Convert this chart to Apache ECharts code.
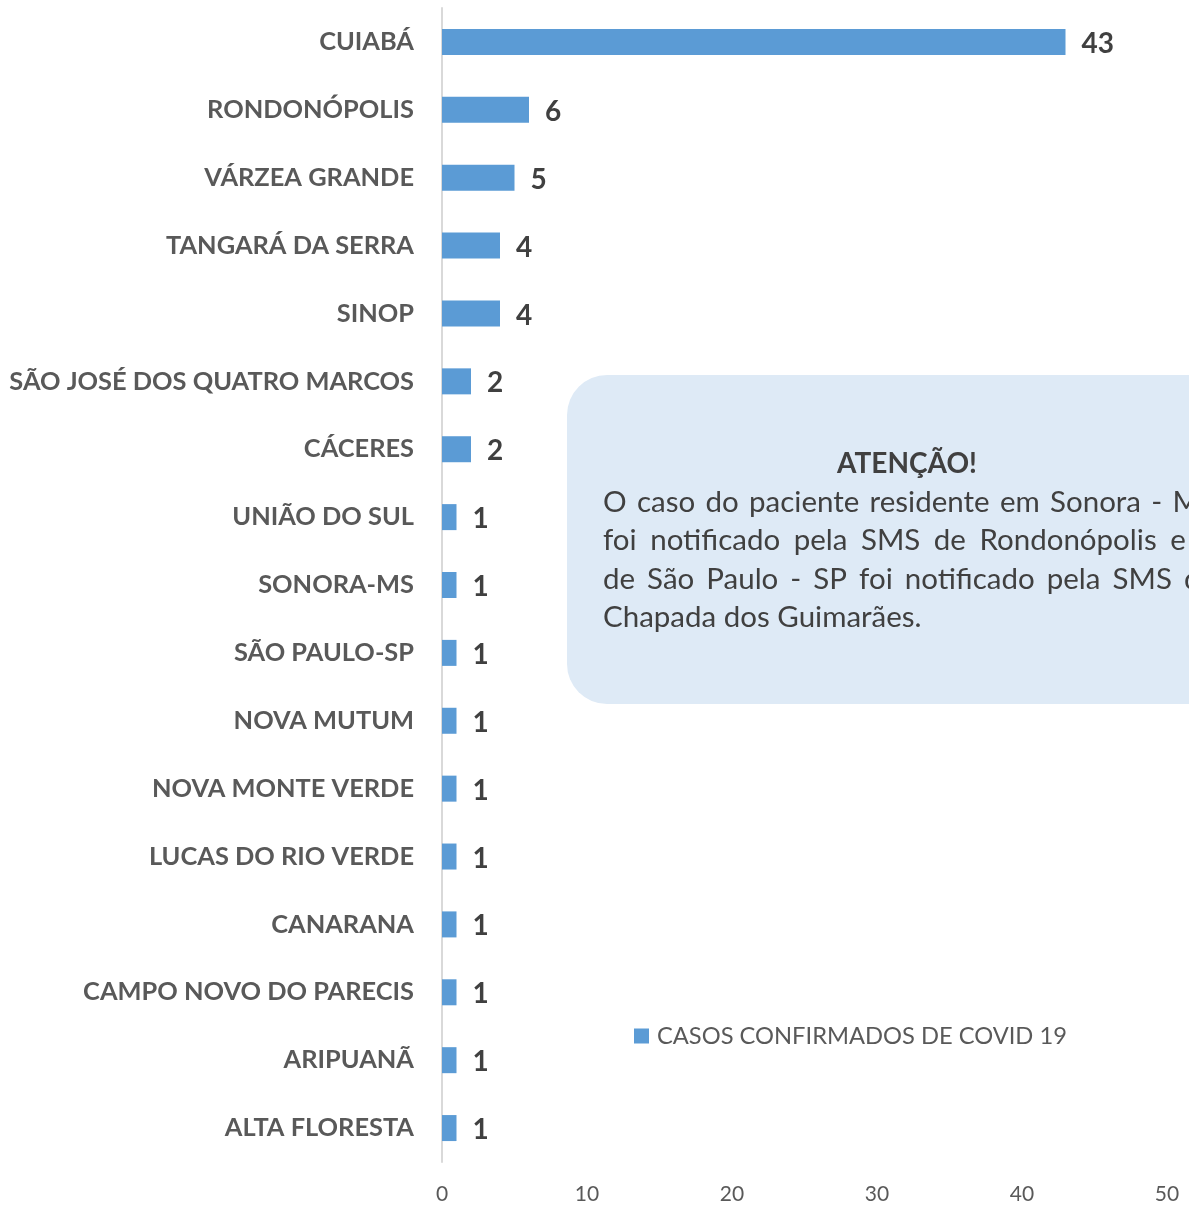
<!DOCTYPE html>
<html>
<head>
<meta charset="utf-8">
<script src="https://cdn.jsdelivr.net/npm/echarts@6/dist/echarts.min.js"></script>
<style>
  html, body { margin: 0; padding: 0; background: #fff; }
  #chart { width: 1189px; height: 1205px; }
</style>
</head>
<body>
<div id="chart"></div>
<script>
  // municipios, de cima para baixo
  let cidades = ['CUIABÁ', 'RONDONÓPOLIS', 'VÁRZEA GRANDE', 'TANGARÁ DA SERRA', 'SINOP',
    'SÃO JOSÉ DOS QUATRO MARCOS', 'CÁCERES', 'UNIÃO DO SUL', 'SONORA-MS', 'SÃO PAULO-SP',
    'NOVA MUTUM', 'NOVA MONTE VERDE', 'LUCAS DO RIO VERDE', 'CANARANA',
    'CAMPO NOVO DO PARECIS', 'ARIPUANÃ', 'ALTA FLORESTA'];
  let casos = [43, 6, 5, 4, 4, 2, 2, 1, 1, 1, 1, 1, 1, 1, 1, 1, 1];
  let serieNome = 'CASOS CONFIRMADOS DE COVID 19';
  let notaTitulo = 'ATENÇÃO!';
  let notaLinhas = [
    'O caso do paciente residente em Sonora - MS',
    'foi notificado pela SMS de Rondonópolis e o',
    'de São Paulo - SP foi notificado pela SMS de',
    'Chapada dos Guimarães.'
  ];

  let fonte = 'Lato, "Open Sans", sans-serif';
  let fonteNota = '29.5px ' + fonte;

  // texto justificado (menos a ultima linha)
  let ctx = document.createElement('canvas').getContext('2d');
  ctx.font = fonteNota;
  let textos = [{
    type: 'text', z: 10, x: 907, y: 464,
    style: { text: notaTitulo, font: 'bold 28px ' + fonte, fill: '#404040', align: 'center', verticalAlign: 'middle' }
  }];
  let xIni = 603, xFim = 1216;
  for (let i = 0; i < notaLinhas.length; i++) {
    let y = 502 + i * 38.5;
    let palavras = notaLinhas[i].split(' ');
    let larg = palavras.map(p => ctx.measureText(p).width);
    let total = larg.reduce((a, b) => a + b, 0);
    let esp = ctx.measureText(' ').width;
    if (i < notaLinhas.length - 1) esp = (xFim - xIni - total) / (palavras.length - 1);
    let x = xIni;
    for (let j = 0; j < palavras.length; j++) {
      textos.push({
        type: 'text', z: 10, x: x, y: y,
        style: { text: palavras[j], font: fonteNota, fill: '#404040', align: 'left', verticalAlign: 'middle' }
      });
      x += larg[j] + esp;
    }
  }

  let option = {
    animation: false,
    grid: { left: 442, right: 22, top: 8, bottom: 41 },
    legend: {
      left: 629, top: 1019,
      itemWidth: 15, itemHeight: 15, itemGap: 10,
      icon: 'rect',
      textStyle: { color: '#595959', fontSize: 23.7, fontFamily: fonte, padding: [0, 0, 0, 3] },
      data: [serieNome]
    },
    xAxis: {
      type: 'value', min: 0, max: 50, interval: 10,
      axisLine: { show: false }, axisTick: { show: false }, splitLine: { show: false },
      axisLabel: { color: '#595959', fontSize: 21, fontFamily: fonte, margin: 22 }
    },
    yAxis: {
      type: 'category', inverse: true, data: cidades,
      axisLine: { show: true, lineStyle: { color: '#d9d9d9', width: 2 } },
      axisTick: { show: false },
      axisLabel: { color: '#595959', fontSize: 25.4, fontWeight: 'bold', fontFamily: fonte, margin: 28,
        padding: [2, 0, 0, 0] }
    },
    series: [{
      name: serieNome, type: 'bar', data: casos, barWidth: 26,
      itemStyle: { color: '#5b9bd5' },
      label: {
        show: true, position: 'right', distance: 16,
        color: '#404040', fontSize: 28, fontWeight: 'bold', fontFamily: fonte,
        offset: [0, 2]
      }
    }],
    graphic: [{
      type: 'rect', z: 1,
      shape: { x: 567, y: 375, width: 700, height: 329, r: 40 },
      style: { fill: '#deeaf6' }
    }].concat(textos)
  };

  echarts.init(document.getElementById('chart')).setOption(option);
</script>
</body>
</html>
